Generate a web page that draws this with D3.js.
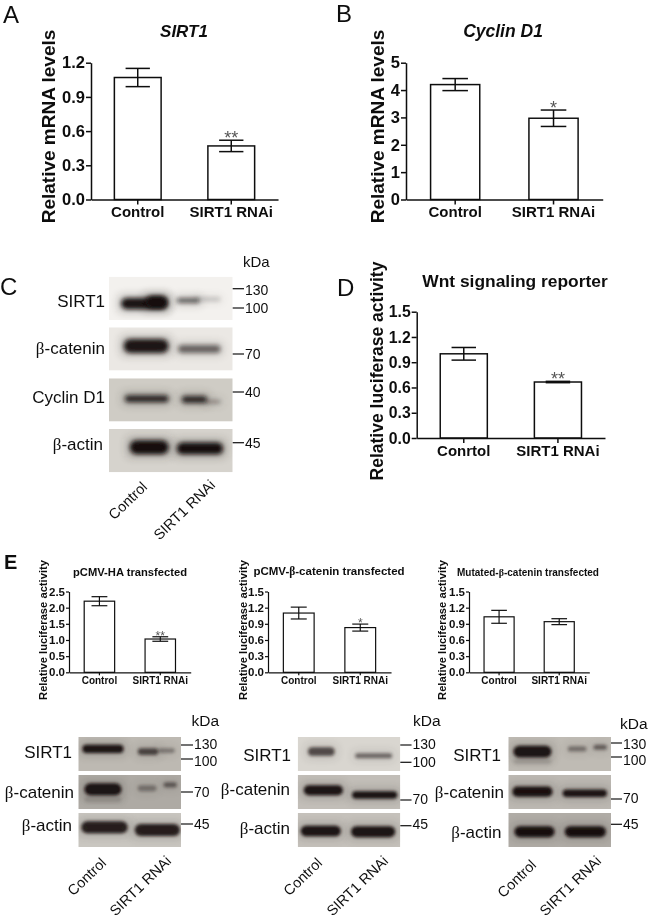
<!DOCTYPE html>
<html>
<head>
<meta charset="utf-8">
<style>
  html, body { margin: 0; padding: 0; background: #fff; }
  svg { display: block; }
  text { font-family: "Liberation Sans", Arial, sans-serif; fill: #111; }
  .axis path, .axis line { stroke: #111; fill: none; }
</style>
<script src="https://cdn.jsdelivr.net/npm/d3@7"></script>
</head>
<body>
<svg id="fig" width="650" height="921"></svg>
<script>
// bar chart values
var cats = ['Control', 'SIRT1 RNAi'];
var catsD = ['Conrtol', 'SIRT1 RNAi'];

var sirt1Means = [1.07, 0.47];
var sirt1Errs = [0.08, 0.05];
var sirt1Ticks = [0, 0.3, 0.6, 0.9, 1.2];
var sirt1Stars = ['', '**'];

var cyclinMeans = [4.2, 2.97];
var cyclinErrs = [0.22, 0.3];
var cyclinTicks = [0, 1, 2, 3, 4, 5];
var cyclinStars = ['', '*'];

var wntMeans = [1.0, 0.665];
var wntErrs = [0.075, 0.008];
var wntTicks = [0, 0.3, 0.6, 0.9, 1.2, 1.5];
var wntStars = ['', '**'];

var haMeans = [2.2, 1.03];
var haErrs = [0.14, 0.07];
var haTicks = [0, 0.5, 1.0, 1.5, 2.0, 2.5];
var haStars = ['', '**'];

var catMeans = [1.1, 0.83];
var catErrs = [0.11, 0.065];
var catTicks = [0, 0.3, 0.6, 0.9, 1.2, 1.5];
var catStars = ['', '*'];

var mutMeans = [1.03, 0.94];
var mutErrs = [0.12, 0.055];
var mutTicks = [0, 0.3, 0.6, 0.9, 1.2, 1.5];
var mutStars = ['', ''];

// western blots: row names, size markers, band strength
var rowsC = ['SIRT1', 'β-catenin', 'Cyclin D1', 'β-actin'];
var rowsE = ['SIRT1', 'β-catenin', 'β-actin'];
var kdaC = ['130', '100', '70', '40', '45'];
var kdaE = ['130', '100', '70', '45'];

var densityC = [[0.97, 0.97, 0.62, 0.2], [0.95, 0.55], [0.85, 0.85, 0.4], [1, 1]];
var densityE1 = [[0.95, 0.65, 0.35], [0.95, 0.12, 0.35, 0.5], [0.88, 0.88]];
var densityE2 = [[0.65, 0.5], [0.95, 0.95], [0.95, 0.95]];
var densityE3 = [[0.95, 0.12, 0.4, 0.5], [0.97, 0.95], [0.97, 0.97]];

// band outline in percent of the strip: x0, x1, y centre, height
var shapesC = [
  [[10, 47, 62, 25], [30, 47, 58, 27], [55, 73, 55, 10], [70, 90, 52, 8]],
  [[12, 48, 43, 31], [56, 90, 50, 17]],
  [[13, 48, 47, 15], [59, 79, 49, 15], [78, 90, 54, 6]],
  [[17, 48, 42, 31], [55, 92, 45, 26]]
];
var shapesE1 = [
  [[4, 44, 35, 24], [58, 78, 43, 20], [78, 94, 40, 14]],
  [[6, 42, 42, 35], [6, 42, 72, 18], [58, 76, 39, 18], [83, 96, 29, 15]],
  [[3, 48, 42, 35], [55, 99, 50, 35]]
];
var shapesE2 = [
  [[10, 36, 43, 25], [56, 92, 55, 15]],
  [[6, 44, 45, 29], [53, 97, 59, 22]],
  [[3, 42, 53, 31], [52, 95, 55, 32]]
];
var shapesE3 = [
  [[5, 42, 43, 34], [5, 42, 72, 16], [58, 76, 35, 15], [83, 96, 30, 15]],
  [[4, 43, 49, 30], [53, 96, 54, 22]],
  [[6, 45, 55, 32], [55, 95, 55, 32]]
];

var svg = d3.select('#fig');
var defs = svg.append('defs');
function addBlur(id, sd) {
  defs.append('filter').attr('id', id)
    .attr('x', '-40%').attr('y', '-200%').attr('width', '180%').attr('height', '500%')
    .append('feGaussianBlur').attr('stdDeviation', sd);
}
addBlur('soft', 0.35);
addBlur('softer', 0.5);
addBlur('band', 2.0);
addBlur('bandE', 1.4);
addBlur('halo', 5);

svg.append('rect').attr('width', 650).attr('height', 921).attr('fill', '#fff');

// beta is set in a serif face like the symbol glyph of the original
function richText(sel, str) {
  str.split(/(β)/).forEach(function(part) {
    if (!part) return;
    var t = sel.append('tspan').text(part);
    if (part === 'β') t.style('font-family', '"Liberation Serif", serif');
  });
}

function barPanel(o) {
  var g = svg.append('g').attr('filter', o.small ? 'url(#softer)' : 'url(#soft)');

  var x = d3.scaleBand().domain(o.cats)
    .range([o.left, o.right])
    .paddingInner(0.5).paddingOuter(0.25);
  var y = d3.scaleLinear().domain([0, d3.max(o.ticks)]).range([o.bottom, o.top]);

  var sw = o.small ? 1.2 : 1.5;
  var rows = o.cats.map(function(c, i) {
    return { cat: c, mean: o.means[i], err: o.errs[i], star: o.stars[i] };
  });

  g.selectAll('rect.bar').data(rows).enter().append('rect')
    .attr('class', 'bar')
    .attr('x', function(d) { return x(d.cat); })
    .attr('width', x.bandwidth())
    .attr('y', function(d) { return y(d.mean); })
    .attr('height', function(d) { return o.bottom - y(d.mean); })
    .attr('fill', '#fff').attr('stroke', '#111').attr('stroke-width', sw);

  var err = g.selectAll('g.err').data(rows).enter().append('g')
    .attr('class', 'err')
    .attr('stroke', '#111').attr('stroke-width', sw);
  err.append('line')
    .attr('x1', function(d) { return x(d.cat) + x.bandwidth() / 2; })
    .attr('x2', function(d) { return x(d.cat) + x.bandwidth() / 2; })
    .attr('y1', function(d) { return y(d.mean - d.err); })
    .attr('y2', function(d) { return y(d.mean + d.err); });
  [-1, 1].forEach(function(sign) {
    err.append('line')
      .attr('x1', function(d) { return x(d.cat) + x.bandwidth() / 2 - x.bandwidth() * 0.26; })
      .attr('x2', function(d) { return x(d.cat) + x.bandwidth() / 2 + x.bandwidth() * 0.26; })
      .attr('y1', function(d) { return y(d.mean + sign * d.err); })
      .attr('y2', function(d) { return y(d.mean + sign * d.err); });
  });

  g.selectAll('text.star').data(rows).enter().append('text')
    .attr('class', 'star')
    .attr('x', function(d) { return x(d.cat) + x.bandwidth() / 2; })
    .attr('y', function(d) { return y(d.mean + d.err) + o.starDy; })
    .attr('text-anchor', 'middle')
    .style('font-size', o.starSize + 'px')
    .style('fill', '#555')
    .text(function(d) { return d.star; });

  var yAxis = d3.axisLeft(y).tickValues(o.ticks).tickSize(o.tickLen).tickSizeOuter(0)
    .tickPadding(o.tickPad).tickFormat(d3.format(o.fmt));
  var ya = g.append('g').attr('class', 'axis').attr('transform', 'translate(' + o.left + ',0)').call(yAxis);

  var xAxis = d3.axisBottom(x).tickSize(o.tickLen).tickSizeOuter(0).tickPadding(o.catPad);
  var xa = g.append('g').attr('class', 'axis').attr('transform', 'translate(0,' + o.bottom + ')').call(xAxis);

  g.selectAll('.axis path, .axis line').attr('stroke-width', sw);
  ya.selectAll('text').style('font-size', o.tickSize + 'px').style('font-weight', 'bold')
    .style('font-family', '"Liberation Sans", Arial, sans-serif');
  xa.selectAll('text').style('font-size', o.catSize + 'px').style('font-weight', 'bold')
    .style('font-family', '"Liberation Sans", Arial, sans-serif').attr('fill', '#111');

  g.append('text')
    .attr('transform', 'translate(' + o.ylabX + ',' + o.ylabY + ') rotate(-90)')
    .attr('text-anchor', 'middle')
    .style('font-size', o.ylabSize + 'px').style('font-weight', 'bold')
    .text(o.ylab);

  var title = g.append('text')
    .attr('x', o.titleX).attr('y', o.titleY)
    .attr('text-anchor', 'middle')
    .style('font-size', o.titleSize + 'px').style('font-weight', 'bold')
    .style('font-style', o.italic ? 'italic' : 'normal');
  richText(title, o.title);
}

function blot(o) {
  var g = svg.append('g').attr('filter', 'url(#soft)');
  var sx = d3.scaleLinear().domain([0, 100]).range([o.x0, o.x1]);

  o.rows.forEach(function(name, r) {
    var top = o.stripTops[r];
    var sy = d3.scaleLinear().domain([0, 100]).range([top, top + o.stripH]);
    var clipId = 'clip-' + o.id + '-' + r;
    defs.append('clipPath').attr('id', clipId).append('rect')
      .attr('x', o.x0).attr('y', top).attr('width', o.x1 - o.x0).attr('height', o.stripH);

    var strip = g.append('g').attr('clip-path', 'url(#' + clipId + ')');
    strip.append('rect')
      .attr('x', o.x0).attr('y', top).attr('width', o.x1 - o.x0).attr('height', o.stripH)
      .attr('fill', o.backs[r]);

    var bands = o.shapes[r].map(function(s, i) {
      return { x0: s[0], x1: s[1], yc: s[2], h: s[3], k: o.density[r][i] };
    });

    // wide grey glow round each band, then the band itself
    strip.selectAll('rect.glow').data(bands).enter().append('rect')
      .attr('class', 'glow')
      .attr('x', function(d) { return sx(d.x0) - 2; })
      .attr('width', function(d) { return sx(d.x1) - sx(d.x0) + 4; })
      .attr('y', function(d) { return sy(d.yc - d.h / 2) - 2; })
      .attr('height', function(d) { return sy(d.h) - sy(0) + 4; })
      .attr('fill', '#2a2622')
      .attr('opacity', function(d) { return d.k * o.glow; })
      .attr('filter', 'url(#halo)');

    strip.selectAll('rect.blob').data(bands).enter().append('rect')
      .attr('class', 'blob')
      .attr('x', function(d) { return sx(d.x0); })
      .attr('width', function(d) { return sx(d.x1) - sx(d.x0); })
      .attr('y', function(d) { return sy(d.yc - d.h / 2); })
      .attr('height', function(d) { return sy(d.h) - sy(0); })
      .attr('rx', function(d) { return (sy(d.h) - sy(0)) / 2; })
      .attr('fill', '#14110e')
      .attr('opacity', function(d) { return d.k; })
      .attr('filter', 'url(#' + o.blur + ')');

    var lab = g.append('text')
      .attr('x', o.labXs[r]).attr('y', o.labYs[r]).attr('dy', '0.35em')
      .attr('text-anchor', 'end')
      .style('font-size', o.labSize + 'px');
    richText(lab, name);
  });

  o.kda.forEach(function(k, i) {
    g.append('line')
      .attr('x1', o.x1).attr('x2', o.tickEnd)
      .attr('y1', o.kdaYs[i]).attr('y2', o.kdaYs[i])
      .attr('stroke', '#111').attr('stroke-width', 1.2);
    g.append('text')
      .attr('x', o.tickEnd + 1).attr('y', o.kdaYs[i] + o.kdaDy[i]).attr('dy', '0.35em')
      .style('font-size', o.kdaSize + 'px')
      .text(k);
  });

  g.append('text')
    .attr('x', o.kdaX).attr('y', o.kdaY).attr('dy', '0.35em')
    .style('font-size', o.kdaHeadSize + 'px')
    .text('kDa');

  o.laneEnds.forEach(function(e, i) {
    g.append('text')
      .attr('transform', 'translate(' + e[0] + ',' + e[1] + ') rotate(-44)')
      .attr('text-anchor', 'end')
      .style('font-size', o.laneSize + 'px')
      .text(cats[i]);
  });
}

function panelLetter(s, x, y, size, weight) {
  svg.append('text').attr('x', x).attr('y', y)
    .style('font-size', size + 'px').style('font-weight', weight || 'normal')
    .attr('filter', 'url(#soft)')
    .text(s);
}

panelLetter('A', 3, 23, 24);
panelLetter('B', 336, 22, 24);
panelLetter('C', 0, 295, 24);
panelLetter('D', 337, 296, 24);
panelLetter('E', 4, 569, 20, 'bold');

var bigStyle = { tickLen: 5, tickPad: 1, tickSize: 16.5, catSize: 15, catPad: 2, ylabSize: 19, starSize: 18, starDy: 4 };

barPanel(Object.assign({}, bigStyle, {
  cats: cats, means: sirt1Means, errs: sirt1Errs, stars: sirt1Stars, ticks: sirt1Ticks, fmt: '.1f',
  left: 91, right: 278, top: 62.7, bottom: 199.5,
  ylab: 'Relative mRNA levels', ylabX: 55, ylabY: 126.5,
  title: 'SIRT1', titleX: 184, titleY: 36.5, titleSize: 17, italic: true
}));
barPanel(Object.assign({}, bigStyle, {
  cats: cats, means: cyclinMeans, errs: cyclinErrs, stars: cyclinStars, ticks: cyclinTicks, fmt: 'd',
  left: 406, right: 602.7, top: 62.7, bottom: 199.5,
  ylab: 'Relative mRNA levels', ylabX: 384, ylabY: 126.5,
  title: 'Cyclin D1', titleX: 503, titleY: 36.5, titleSize: 17.5, italic: true
}));
barPanel(Object.assign({}, bigStyle, {
  cats: catsD, means: wntMeans, errs: wntErrs, stars: wntStars, ticks: wntTicks, fmt: '.1f',
  left: 416.7, right: 605, top: 311.7, bottom: 438, tickSize: 15.8,
  ylab: 'Relative luciferase activity', ylabX: 383, ylabY: 371, ylabSize: 17.5,
  title: 'Wnt signaling reporter', titleX: 515, titleY: 286.5, titleSize: 17.4
}));

var smallStyle = { small: true, tickLen: 3, tickPad: 1, tickSize: 11.5, catSize: 10, catPad: 2, ylabSize: 11.2, starSize: 12, starDy: 3, top: 591.5, bottom: 672.3 };

barPanel(Object.assign({}, smallStyle, {
  cats: cats, means: haMeans, errs: haErrs, stars: haStars, ticks: haTicks, fmt: '.1f',
  left: 69, right: 190.7,
  ylab: 'Relative luciferase activity', ylabX: 46.5, ylabY: 630,
  title: 'pCMV-HA transfected', titleX: 130, titleY: 575.5, titleSize: 11.2
}));
barPanel(Object.assign({}, smallStyle, {
  cats: cats, means: catMeans, errs: catErrs, stars: catStars, ticks: catTicks, fmt: '.1f',
  left: 268, right: 391,
  ylab: 'Relative luciferase activity', ylabX: 246.5, ylabY: 630,
  title: 'pCMV-β-catenin transfected', titleX: 329, titleY: 575, titleSize: 11.5
}));
barPanel(Object.assign({}, smallStyle, {
  cats: cats, means: mutMeans, errs: mutErrs, stars: mutStars, ticks: mutTicks, fmt: '.1f',
  left: 469, right: 589.3,
  ylab: 'Relative luciferase activity', ylabX: 446, ylabY: 630,
  title: 'Mutated-β-catenin transfected', titleX: 528, titleY: 576, titleSize: 10
}));

blot({
  id: 'c', rows: rowsC, shapes: shapesC, density: densityC, kda: kdaC, blur: 'band', glow: 0.4,
  x0: 109, x1: 232.7, stripTops: [276.7, 327.3, 378.3, 429], stripH: 43.3,
  backs: ['#f3f1ee', '#ebe8e4', '#cfccc5', '#d6d3cd'],
  labXs: [105, 105, 105, 103], labYs: [301, 348, 397, 444], labSize: 17,
  tickEnd: 244, kdaYs: [288.7, 308, 354, 392, 442.7], kdaDy: [1, 0, 0, 0, 0], kdaSize: 14,
  kdaX: 243, kdaY: 262, kdaHeadSize: 15,
  laneEnds: [[148, 488], [216, 486]], laneSize: 14.5
});
blot({
  id: 'e1', rows: rowsE, shapes: shapesE1, density: densityE1, kda: kdaE, blur: 'bandE', glow: 0.25,
  x0: 78.3, x1: 181, stripTops: [737, 775, 813], stripH: 34,
  backs: ['#bdb9b2', '#aeaaa4', '#c9c6c0'],
  labXs: [72, 74, 72], labYs: [752, 792, 825], labSize: 17,
  tickEnd: 193, kdaYs: [745, 759, 792, 824], kdaDy: [-1, 2, 0, 0], kdaSize: 14,
  kdaX: 191.5, kdaY: 721, kdaHeadSize: 15.5,
  laneEnds: [[107, 864], [172, 862]], laneSize: 14.5
});
blot({
  id: 'e2', rows: rowsE, shapes: shapesE2, density: densityE2, kda: kdaE, blur: 'bandE', glow: 0.25,
  x0: 297.7, x1: 400.3, stripTops: [737, 775, 813], stripH: 34,
  backs: ['#d9d6d0', '#c2beb8', '#c5c1bb'],
  labXs: [291, 290, 290], labYs: [755, 789, 828], labSize: 17,
  tickEnd: 411.5, kdaYs: [745, 762.3, 800, 825.7], kdaDy: [-1, 0, -1, -2], kdaSize: 14,
  kdaX: 413, kdaY: 721, kdaHeadSize: 15.5,
  laneEnds: [[323, 864], [389, 862]], laneSize: 14.5
});
blot({
  id: 'e3', rows: rowsE, shapes: shapesE3, density: densityE3, kda: kdaE, blur: 'bandE', glow: 0.25,
  x0: 508.3, x1: 611, stripTops: [737, 775, 813], stripH: 34,
  backs: ['#bfbbb4', '#bcb8b2', '#b0aca6'],
  labXs: [501, 504, 501.5], labYs: [755, 792, 832], labSize: 17,
  tickEnd: 622, kdaYs: [743, 757, 799, 824.3], kdaDy: [1, 3.5, -1, 0], kdaSize: 14,
  kdaX: 620, kdaY: 724, kdaHeadSize: 15.5,
  laneEnds: [[537, 866], [602, 862]], laneSize: 14.5
});
</script>
</body>
</html>
